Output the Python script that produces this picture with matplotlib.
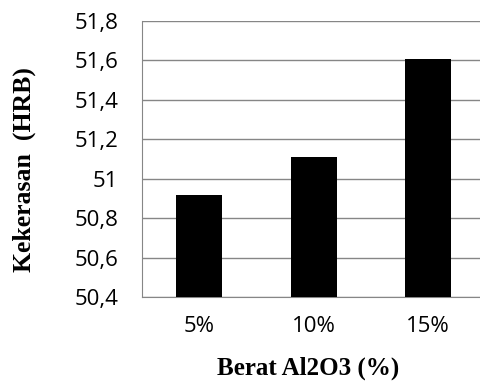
import matplotlib.pyplot as plt
from matplotlib.ticker import FuncFormatter

# Data
kategori = ["5%", "10%", "15%"]
kekerasan = [50.92, 51.11, 51.61]
yticks = [50.4, 50.6, 50.8, 51.0, 51.2, 51.4, 51.6, 51.8]

fig = plt.figure(figsize=(4.81, 3.83), dpi=100)
ax = fig.add_axes([0.295, 0.2245, 0.705, 0.7205])

x = range(len(kategori))
ax.bar(x, kekerasan, width=0.4, color="black", zorder=3)

ax.set_ylim(50.4, 51.8)
ax.set_xlim(-0.5, 2.46)
ax.set_yticks(yticks)
ax.yaxis.set_major_formatter(FuncFormatter(lambda v, p: f"{v:g}".replace(".", ",")))
ax.set_xticks(list(x))
ax.set_xticklabels(kategori)

ax.grid(axis="y", color="#868686", linewidth=1, zorder=0)
for side in ["top", "right"]:
    ax.spines[side].set_visible(False)
for side in ["left", "bottom"]:
    ax.spines[side].set_color("#868686")
ax.tick_params(length=0, labelsize=16, labelcolor="black")
ax.tick_params(axis="y", pad=17)
ax.tick_params(axis="x", pad=14)
for lab in ax.get_xticklabels() + ax.get_yticklabels():
    lab.set_family("Open Sans")

fig.text(0.64, 0.039, "Berat Al2O3 (%)", family="Liberation Serif",
         fontweight="bold", fontsize=18, ha="center", va="center")
fig.text(0.05, 0.556, "Kekerasan  (HRB)", family="Liberation Serif",
         fontweight="bold", fontsize=18.5, rotation=90, ha="center", va="center")

fig.savefig("out.png", dpi=100)
